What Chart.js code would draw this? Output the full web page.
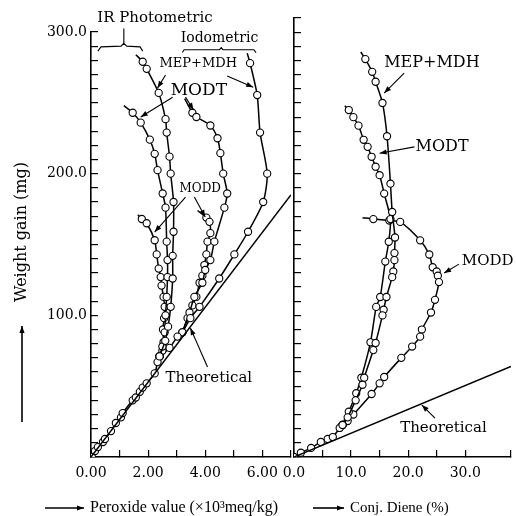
<!DOCTYPE html>
<html>
<head>
<meta charset="utf-8">
<script src="https://cdn.jsdelivr.net/npm/chart.js@4.4.1/dist/chart.umd.min.js"></script>
<style>
  html, body { margin: 0; padding: 0; background: #fff; }
  #wrap { position: relative; width: 516px; height: 516px; overflow: hidden; }
  #left { position: absolute; left: 0; top: 0; }
  #right { position: absolute; left: 280px; top: 0; }
</style>
</head>
<body>
<div id="wrap">
  <canvas id="left" width="296" height="516"></canvas>
  <canvas id="right" width="236" height="516"></canvas>
</div>
<script>
// left panel: peroxide value (x10^3 meq/kg) vs weight gain (mg)
// first point of each curve is the bare line start (no marker)
const peroxideBase = [[0.03,0],[0.14,4.2],[0.24,7],[0.42,10.6],[0.49,12.7],[0.7,18.3],[0.87,24],[1.05,28],
  [1.11,31],[1.46,40],[1.57,42],[1.71,46],[1.81,49],[1.95,52],[2.23,59],[2.33,67],[2.4,71]];
const irMepMdh = [[1.57,284],[1.81,279],[1.95,274],[2.37,257],[2.61,238.5],[2.65,229],[2.75,212],[2.79,200],
  [2.89,180],[2.89,159],[2.86,142],[2.86,126],[2.79,106],[2.7,92],[2.6,82],[2.4,71]];
const irModt = [[1.15,248],[1.46,243],[1.74,236],[2.06,224],[2.23,214],[2.33,202.5],[2.51,186],[2.61,176],
  [2.65,152],[2.68,139],[2.68,127],[2.65,113],[2.61,100],[2.58,88],[2.5,78],[2.4,71]];
const irModd = [[1.64,171],[1.78,168],[1.95,165],[2.23,153],[2.3,143],[2.37,133],[2.44,127],[2.47,121],
  [2.54,113],[2.58,106],[2.56,98],[2.52,90],[2.54,81],[2.5,75],[2.4,71]];
const ioMepMdh = [[5.47,285],[5.57,278],[5.82,255.5],[5.92,229],[6.17,200],[6.03,180],[5.5,159],[5.02,143],
  [4.49,126],[3.8,106],[3.48,98],[3.2,88],[3.03,85],[2.75,77],[2.4,71]];
const ioModt = [[3.28,253],[3.55,243],[3.69,240],[4.18,234],[4.43,225],[4.53,214.5],[4.63,200],[4.77,186],
  [4.67,176],[4.32,152],[4.18,139],[4.0,132],[3.9,123],[3.62,113],[3.45,102],[3.2,88]];
const ioModd = [[3.73,174],[4.04,169],[4.15,166],[4.18,158],[4.08,152],[4.04,143],[3.97,135.5],[3.9,128],
  [3.8,123],[3.69,113],[3.55,107],[3.38,98],[3.2,88]];
const peroxideTheory = [[0,0],[7,185]];

// right panel: conjugated diene (%) vs weight gain (mg)
const dieneBase = [[0,0],[1.2,3],[3.0,6.4],[4.7,10.6],[5.9,12.7],[6.8,14.1],[8.0,20.5],[8.5,22.6]];
const dieneMepMdh = [[11.7,286],[12.5,281],[13.7,272],[14.3,265],[15.5,250],[16.3,226.5],[16.9,193],[17.2,173],
  [17.7,155],[17.6,144],[17.6,139],[17.4,131],[17.2,127],[16.2,113],[15.7,104],[15.5,100],[14.3,80.5],
  [13.9,75.5],[12.3,56],[12.0,51],[10.8,40],[9.4,28],[8.5,22.6]];
const dieneModt = [[8.9,248],[9.6,245],[10.4,240],[11.3,234],[12.2,224],[12.9,219],[13.6,212],[14.3,205],
  [15.0,199],[15.8,186],[16.9,168],[16.6,152],[16.0,138],[15.1,113],[14.4,106],[13.4,81],[11.8,56],
  [10.9,45],[9.6,32],[8.5,22.6]];
const dieneModd = [[12.0,169],[13.9,168],[16.7,167],[18.6,166],[22.1,153],[23.7,143],[24.3,134],[25.0,131],
  [25.2,128],[25.4,123.5],[24.7,111],[24.0,102],[22.4,90],[22.1,85],[20.7,78],[18.8,70],[15.8,56.5],
  [15.0,52],[13.6,44.5],[10.4,30],[9.4,25.4],[8.5,22.6]];
const dieneTheory = [[0,0],[38,64]];

// tick labels
const peroxideLabelled = [0, 2, 4, 6];
const dieneLabelled = [0, 10, 20, 30];
const gainLabelled = [100, 200, 300];

const SERIF = '"DejaVu Serif"';
const TIMES = '"Liberation Serif"';

function curve(pts, lead) {
  return {
    data: pts.map(([x, y]) => ({ x, y })),
    showLine: true,
    borderColor: '#000',
    borderWidth: 1.5,
    tension: 0.25,
    pointRadius: ctx => (lead && ctx.dataIndex === 0) ? 0 : 3.6,
    pointBackgroundColor: '#fff',
    pointBorderColor: '#000',
    pointBorderWidth: 1.1
  };
}

function theory(pts) {
  return {
    data: pts.map(([x, y]) => ({ x, y })),
    showLine: true, borderColor: '#000', borderWidth: 1.5, pointRadius: 0, tension: 0
  };
}

function arrowHead(ctx, from, to) {
  const a = Math.atan2(to[1] - from[1], to[0] - from[0]);
  const len = 7, w = 2.6;
  ctx.beginPath();
  ctx.moveTo(to[0], to[1]);
  ctx.lineTo(to[0] - len * Math.cos(a) + w * Math.sin(a), to[1] - len * Math.sin(a) - w * Math.cos(a));
  ctx.lineTo(to[0] - len * Math.cos(a) - w * Math.sin(a), to[1] - len * Math.sin(a) + w * Math.cos(a));
  ctx.closePath();
  ctx.fill();
}

// labels and leader lines placed in data coordinates; axis titles in canvas pixels
function notes(texts, lines, titles) {
  return {
    id: 'notes',
    afterDraw(chart) {
      const { ctx, scales: { x, y } } = chart;
      ctx.save();
      ctx.strokeStyle = '#000';
      ctx.fillStyle = '#000';
      ctx.lineWidth = 1.1;
      lines.forEach(l => {
        const p = l.pts.map(([a, b]) => [x.getPixelForValue(a), y.getPixelForValue(b)]);
        ctx.beginPath();
        p.forEach(([px, py], i) => i ? ctx.lineTo(px, py) : ctx.moveTo(px, py));
        ctx.stroke();
        if (l.arrow) arrowHead(ctx, p[p.length - 2], p[p.length - 1]);
      });
      ctx.textAlign = 'left';
      ctx.textBaseline = 'middle';
      texts.forEach(t => {
        ctx.font = t.size + 'px ' + SERIF;
        ctx.fillText(t.text, x.getPixelForValue(t.x), y.getPixelForValue(t.y));
      });
      titles.forEach(t => {
        ctx.save();
        ctx.translate(t.px, t.py);
        if (t.rot) ctx.rotate(t.rot);
        ctx.font = t.font;
        ctx.fillText(t.text, 0, 0);
        ctx.lineWidth = 1.6;
        ctx.beginPath();
        ctx.moveTo(t.arrow[0], 0);
        ctx.lineTo(t.arrow[1], 0);
        ctx.stroke();
        arrowHead(ctx, [t.arrow[0], 0], [t.arrow[1], 0]);
        ctx.restore();
      });
      ctx.restore();
    }
  };
}

function axes(xMax, xStep, xLabelled, xDigits, yMax, yLabelled, yWidth) {
  const tickFont = { family: SERIF, size: 14 };
  return {
    x: {
      type: 'linear', min: 0, max: xMax,
      afterFit: s => { s.height = 59; s.paddingLeft = 0; s.paddingRight = 0; },
      border: { color: '#000', width: 1.6 },
      grid: { drawOnChartArea: false, tickLength: -7, color: '#000', lineWidth: 1.2 },
      ticks: {
        stepSize: xStep, autoSkip: false, maxRotation: 0, padding: 15, color: '#000', font: tickFont,
        callback: v => xLabelled.includes(v) ? v.toFixed(xDigits) : ''
      }
    },
    y: {
      type: 'linear', min: 0, max: yMax,
      afterFit: s => { s.width = yWidth; s.paddingTop = 0; s.paddingBottom = 0; },
      border: { color: '#000', width: 1.6 },
      grid: { drawOnChartArea: false, tickLength: -7, color: '#000', lineWidth: 1.2 },
      ticks: {
        stepSize: 10, autoSkip: false, padding: 11, color: '#000', font: tickFont,
        callback: v => yLabelled.includes(v) ? v.toFixed(1) : ''
      }
    }
  };
}

const leftTexts = [
  { text: 'IR Photometric', x: 0.22, y: 310, size: 15 },
  { text: 'Iodometric', x: 3.14, y: 295.5, size: 14 },
  { text: 'MEP+MDH', x: 2.4, y: 278, size: 13 },
  { text: 'MODT', x: 2.79, y: 259, size: 17 },
  { text: 'MODD', x: 3.1, y: 189, size: 12 },
  { text: 'Theoretical', x: 2.61, y: 55.8, size: 15 }
];
const leftLines = [
  { pts: [[1.15, 302.5], [1.15, 292]] },
  { pts: [[0.24, 286.5], [0.35, 289.5], [1.05, 290], [1.15, 292], [1.25, 290], [1.72, 289.5], [1.81, 286.5]] },
  { pts: [[3.2, 285.5], [3.26, 287.5], [4.5, 287.5], [4.56, 289], [4.62, 287.5], [5.7, 287.5], [5.78, 285.5]] },
  { pts: [[2.61, 269.6], [2.33, 260.4]], arrow: true },
  { pts: [[4.77, 268.9], [5.68, 261]], arrow: true },
  { pts: [[2.86, 254], [1.74, 240]], arrow: true },
  { pts: [[3.31, 254], [3.59, 245]], arrow: true },
  { pts: [[3.31, 183.5], [2.23, 158.8]], arrow: true },
  { pts: [[3.62, 183.5], [4.0, 169.4]], arrow: true },
  { pts: [[4.08, 63.5], [3.48, 91]], arrow: true }
];
const leftTitles = [
  { text: 'Weight gain (mg)', px: 22, py: 302, rot: -Math.PI / 2, font: '16px ' + SERIF, arrow: [-120, -24] },
  { text: 'Peroxide value (×10³meq/kg)', px: 90, py: 508, font: '16px ' + TIMES, arrow: [-45, -6] }
];

const rightTexts = [
  { text: 'MEP+MDH', x: 15.8, y: 278, size: 16 },
  { text: 'MODT', x: 21.3, y: 219, size: 16 },
  { text: 'MODD', x: 29.4, y: 138, size: 15 },
  { text: 'Theoretical', x: 18.6, y: 20.5, size: 15 }
];
const rightLines = [
  { pts: [[19.3, 271], [15.8, 257]], arrow: true },
  { pts: [[21.1, 219], [15.0, 214.5]], arrow: true },
  { pts: [[28.9, 136.2], [26.3, 129.9]], arrow: true },
  { pts: [[24.7, 27.5], [22.4, 36.7]], arrow: true }
];
const rightTitles = [
  { text: 'Conj. Diene (%)', px: 70, py: 508, font: '15px ' + TIMES, arrow: [-37, -6] }
];

new Chart(document.getElementById('left'), {
  type: 'scatter',
  data: {
    datasets: [
      theory(peroxideTheory),
      curve(peroxideBase, false),
      curve(irMepMdh, true),
      curve(irModt, true),
      curve(irModd, true),
      curve(ioMepMdh, true),
      curve(ioModt, true),
      curve(ioModd, true)
    ]
  },
  options: {
    responsive: false,
    animation: false,
    layout: { padding: { top: 32, right: 2, bottom: 0, left: 0 } },
    plugins: { legend: { display: false }, tooltip: { enabled: false } },
    scales: axes(7, 1, peroxideLabelled, 2, 300, gainLabelled, 91)
  },
  plugins: [notes(leftTexts, leftLines, leftTitles)]
});

new Chart(document.getElementById('right'), {
  type: 'scatter',
  data: {
    datasets: [
      theory(dieneTheory),
      curve(dieneBase, false),
      curve(dieneMepMdh, true),
      curve(dieneModt, true),
      curve(dieneModd, true)
    ]
  },
  options: {
    responsive: false,
    animation: false,
    layout: { padding: { top: 18, right: 3, bottom: 0, left: 0 } },
    plugins: { legend: { display: false }, tooltip: { enabled: false } },
    scales: axes(38, 5, dieneLabelled, 1, 310, [], 14)
  },
  plugins: [notes(rightTexts, rightLines, rightTitles)]
});
</script>
</body>
</html>
